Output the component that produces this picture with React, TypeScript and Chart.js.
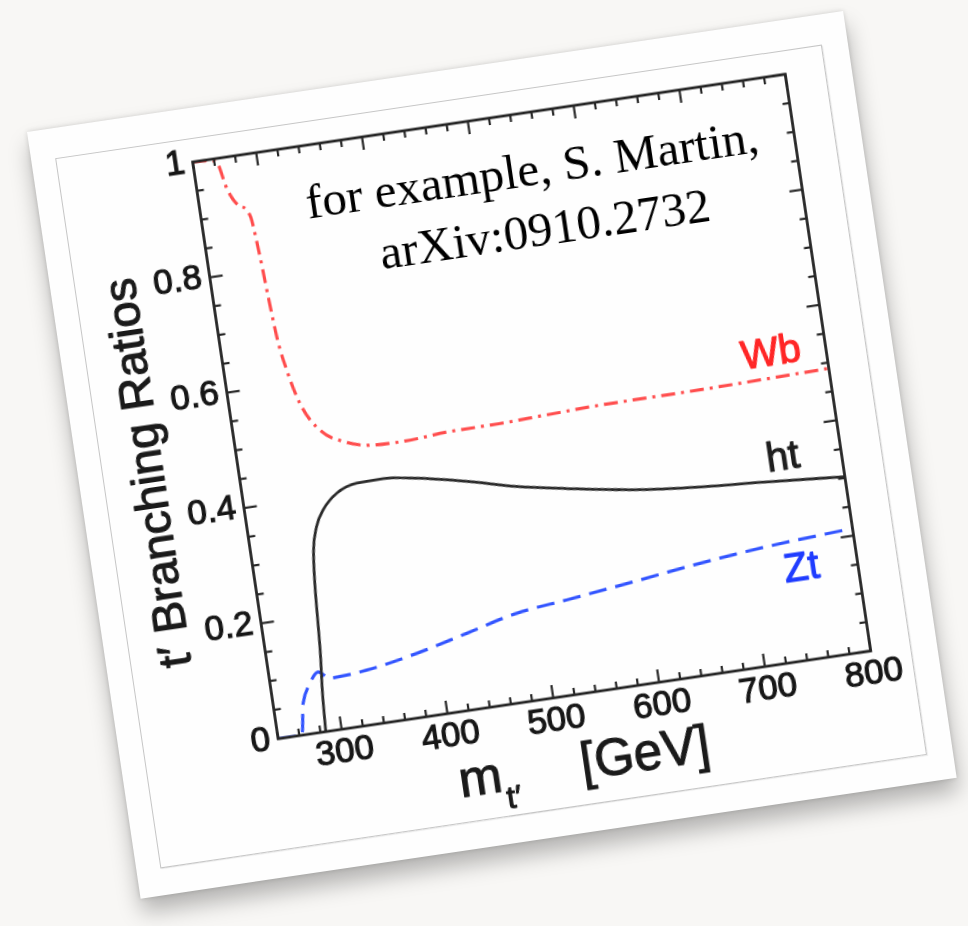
import React, { useEffect, useRef } from "react";
import { Chart, registerables } from "chart.js";

Chart.register(...registerables);

// ---- data (in the chart's own units) ----
const wbMass = [240, 262, 268, 277, 286, 289.3, 291.4, 293.8, 298.4, 306, 321, 341, 365, 393, 441, 488, 533, 583, 678, 800];
const wbBR = [1, 0.995, 0.946, 0.914, 0.893, 0.822, 0.752, 0.683, 0.624, 0.564, 0.513, 0.488, 0.475, 0.473, 0.478, 0.479, 0.482, 0.485, 0.486, 0.49];

const htMass = [285, 287, 291, 295, 298.5, 304.5, 313, 328, 348, 373, 404, 450, 495, 541, 603, 665, 727, 800];
const htBR = [0, 0.06, 0.14, 0.25, 0.31, 0.35, 0.377, 0.402, 0.414, 0.415, 0.407, 0.389, 0.368, 0.352, 0.333, 0.321, 0.313, 0.302];

const ztMass = [240, 262, 268, 277, 286, 296, 331, 380, 429, 478, 526, 590, 654, 718, 800];
const ztBR = [0, 0, 0.054, 0.086, 0.103, 0.0895, 0.094, 0.11, 0.1315, 0.153, 0.163, 0.177, 0.1916, 0.203, 0.2125];

const xTickValues = [300, 400, 500, 600, 700, 800];
const xTickLabels = ["300", "400", "500", "600", "700", "800"];
const yTickValues = [0, 0.2, 0.4, 0.6, 0.8, 1];
const yTickLabels = ["0", "0.2", "0.4", "0.6", "0.8", "1"];

const curveLabels = ["Wb", "ht", "Zt"];
const curveLabelX = [748.6, 745.3, 747.5];
const curveLabelY = [0.529, 0.349, 0.157];

const xTitleMain = "m";
const xTitleSub = "t\u2032";
const xTitleUnit = "[GeV]";
const yTitle = "t\u2032 Branching Ratios";
const noteLines = ["for example, S. Martin,", "arXiv:0910.2732"];

const X_MIN = 240;
const X_MAX = 800;

const SANS = "'Liberation Sans', Arial, Helvetica, sans-serif";
const SERIF = "'Liberation Serif', 'Times New Roman', serif";

const CARD_W = 825;
const CARD_H = 775;
const TEXT_STROKE = 1.1;

const framePlugin = {
  id: "frameAndText",
  afterDatasetsDraw(chart: any) {
    const { ctx, chartArea: a, scales } = chart;
    const xs = scales.x;
    const ys = scales.y;
    ctx.save();
    ctx.strokeStyle = "#262626";
    ctx.lineWidth = 2.8;
    ctx.strokeRect(a.left, a.top, a.right - a.left, a.bottom - a.top);
    ctx.lineWidth = 2.2;
    const line = (x1: number, y1: number, x2: number, y2: number) => {
      ctx.beginPath();
      ctx.moveTo(x1, y1);
      ctx.lineTo(x2, y2);
      ctx.stroke();
    };
    for (let v = X_MIN; v <= X_MAX; v += 20) {
      const px = xs.getPixelForValue(v);
      const len = v % 100 === 0 ? 13 : 7;
      line(px, a.bottom, px, a.bottom - len);
      line(px, a.top, px, a.top + len);
    }
    for (let i = 0; i <= 20; i++) {
      const py = ys.getPixelForValue(i * 0.05);
      const len = i % 4 === 0 ? 13 : 7;
      line(a.left, py, a.left + len, py);
      line(a.right, py, a.right - len, py);
    }
    ctx.restore();
  },
  afterDraw(chart: any) {
    const { ctx, chartArea: a, scales } = chart;
    const xs = scales.x;
    const ys = scales.y;
    ctx.save();
    ctx.lineWidth = TEXT_STROKE;
    ctx.lineJoin = "round";
    const put = (t: string, x: number, y: number, color: string) => {
      ctx.fillStyle = color;
      ctx.strokeStyle = color;
      ctx.strokeText(t, x, y);
      ctx.fillText(t, x, y);
    };
    // curve labels
    const colors = ["#ff2626", "#1e1e1e", "#1f3cff"];
    ctx.font = `40px ${SANS}`;
    ctx.textAlign = "center";
    ctx.textBaseline = "middle";
    curveLabels.forEach((t, i) => {
      put(t, xs.getPixelForValue(curveLabelX[i]), ys.getPixelForValue(curveLabelY[i]), colors[i]);
    });

    // y title
    ctx.save();
    ctx.translate(a.left - 74.5, (a.top + a.bottom) / 2 + 9.5);
    ctx.rotate(-Math.PI / 2);
    ctx.textAlign = "center";
    ctx.textBaseline = "alphabetic";
    ctx.font = `47px ${SANS}`;
    put(yTitle, 0, 0, "#1a1a1a");
    ctx.restore();

    // x title
    const cx = (a.left + a.right) / 2;
    const base = a.bottom + 85;
    ctx.textAlign = "left";
    ctx.textBaseline = "alphabetic";
    ctx.font = `52px ${SANS}`;
    put(xTitleMain, cx - 127, base, "#1a1a1a");
    ctx.font = `32px ${SANS}`;
    put(xTitleSub, cx - 82, base + 18, "#1a1a1a");
    ctx.font = `51px ${SANS}`;
    put(xTitleUnit, cx - 4, base, "#1a1a1a");
    ctx.restore();
  },
};

export default function App() {
  const ref = useRef<HTMLCanvasElement | null>(null);

  useEffect(() => {
    const canvas = ref.current;
    if (!canvas) return;
    const mk = (xs: number[], ys: number[]) => xs.map((x, i) => ({ x, y: ys[i] }));
    const chart = new Chart(canvas, {
      type: "scatter",
      data: {
        datasets: [
          {
            label: "Wb",
            data: mk(wbMass, wbBR),
            showLine: true,
            borderColor: "#ff4d4d",
            borderWidth: 3.2,
            borderDash: [14, 6, 3, 6],
            pointRadius: 0,
            cubicInterpolationMode: "monotone",
          },
          {
            label: "ht",
            data: mk(htMass, htBR),
            showLine: true,
            borderColor: "#2a2a2a",
            borderWidth: 2.8,
            pointRadius: 0,
            cubicInterpolationMode: "monotone",
          },
          {
            label: "Zt",
            data: mk(ztMass, ztBR),
            showLine: true,
            borderColor: "#3355ff",
            borderWidth: 3.2,
            borderDash: [18, 9],
            pointRadius: 0,
            cubicInterpolationMode: "monotone",
          },
        ],
      } as any,
      options: {
        responsive: false,
        animation: false,
        devicePixelRatio: 1,
        layout: { padding: { left: 0, top: 54, right: 66.5, bottom: 0 } },
        plugins: { legend: { display: false }, tooltip: { enabled: false } },
        scales: {
          x: {
            type: "linear",
            min: X_MIN,
            max: X_MAX,
            grid: { display: false, drawTicks: false },
            border: { display: false },
            afterBuildTicks: (s: any) => {
              s.ticks = xTickValues.map((v) => ({ value: v }));
            },
            afterFit: (s: any) => {
              s.height = 138;
            },
            ticks: {
              autoSkip: false,
              maxRotation: 0,
              padding: 2,
              color: "#161616",
              textStrokeColor: "#161616",
              textStrokeWidth: TEXT_STROKE,
              font: { family: SANS, size: 35 },
              callback: (_v: any, i: number) => xTickLabels[i],
            },
          },
          y: {
            type: "linear",
            min: 0,
            max: 1,
            grid: { display: false, drawTicks: false },
            border: { display: false },
            afterBuildTicks: (s: any) => {
              s.ticks = yTickValues.map((v) => ({ value: v }));
            },
            afterFit: (s: any) => {
              s.width = 159.5;
            },
            ticks: {
              autoSkip: false,
              padding: 8,
              color: "#161616",
              textStrokeColor: "#161616",
              textStrokeWidth: TEXT_STROKE,
              font: { family: SANS, size: 35 },
              callback: (_v: any, i: number) => yTickLabels[i],
            },
          },
        },
      } as any,
      plugins: [framePlugin],
    });
    return () => chart.destroy();
  }, []);

  const noteStyle = (center: number, baseline: number): React.CSSProperties => ({
    position: "absolute",
    left: center - 350,
    width: 700,
    top: baseline - 0.838 * 49,
    textAlign: "center",
    fontFamily: SERIF,
    fontSize: 49,
    lineHeight: "49px",
    color: "#000",
    whiteSpace: "nowrap",
  });

  return (
    <div style={{ position: "fixed", left: 0, top: 0, width: 968, height: 926, background: "#f8f7f5", overflow: "hidden" }}>
      <div
        style={{
          position: "absolute",
          left: 27,
          top: 132,
          width: CARD_W,
          height: CARD_H,
          background: "#fefefe",
          transformOrigin: "0 0",
          transform: "rotate(-8.43deg)",
          boxShadow: "0 14px 22px rgba(0,0,0,0.28), 0 0 5px rgba(0,0,0,0.15)",
        }}
      >
        <div
          style={{
            position: "absolute",
            left: 24,
            top: 30,
            right: 26,
            bottom: 27,
            border: "1px solid #c6c6c6",
            boxShadow: "1px 1px 1px rgba(0,0,0,0.08)",
          }}
        />
        <canvas
          ref={ref}
          width={CARD_W}
          height={CARD_H}
          style={{ position: "absolute", left: 0, top: 0, width: CARD_W, height: CARD_H, filter: "blur(0.7px)" }}
        />
        <div style={noteStyle(494, 127)}>{noteLines[0]}</div>
        <div style={noteStyle(498, 188)}>{noteLines[1]}</div>
      </div>
    </div>
  );
}
